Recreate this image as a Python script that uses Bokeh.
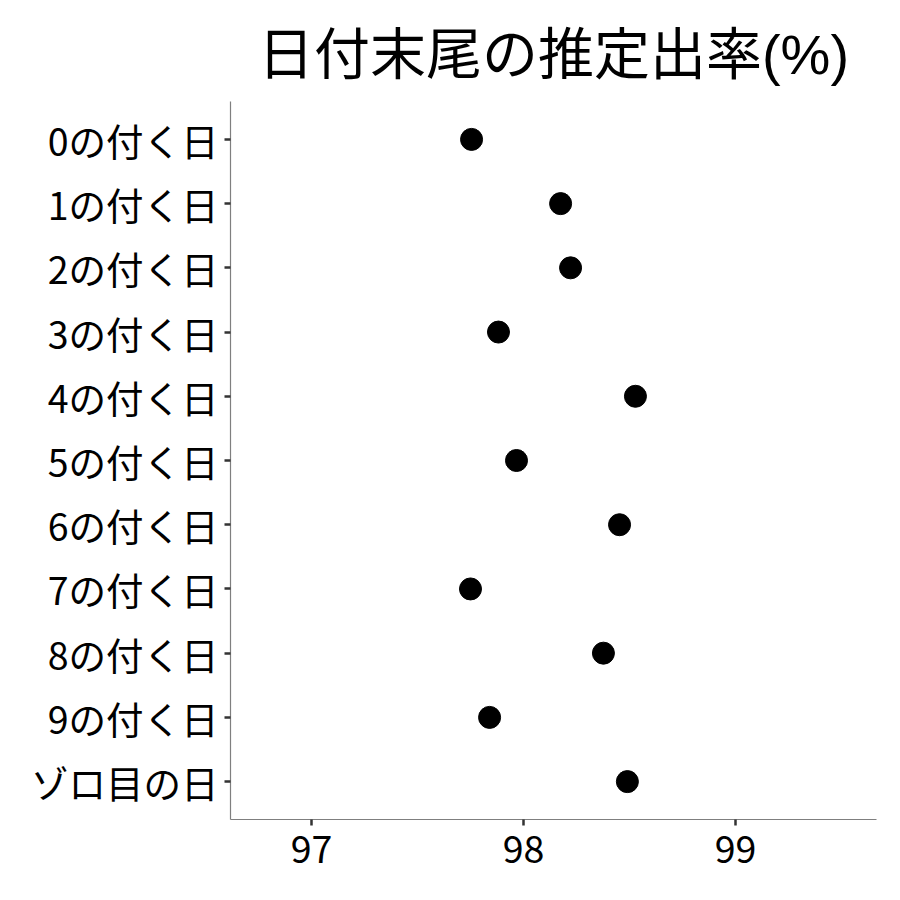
from bokeh.plotting import figure
from bokeh.models import Range1d, FixedTicker, ColumnDataSource
from bokeh.embed import file_html
from bokeh.resources import INLINE

title_text = "日付末尾の推定出率(%)"
categories = ["0の付く日", "1の付く日", "2の付く日", "3の付く日", "4の付く日",
              "5の付く日", "6の付く日", "7の付く日", "8の付く日", "9の付く日", "ゾロ目の日"]
rates = [97.755, 98.175, 98.222, 97.882, 98.528, 97.967, 98.453, 97.750, 98.377, 97.840, 98.490]
x_ticks = [97, 98, 99]

n = len(categories)
ypos = [n - i for i in range(n)]
src = ColumnDataSource(dict(x=rates, y=ypos, cat=categories))

FONT = "Noto Sans CJK JP"

p = figure(width=884, height=884, output_backend="svg", toolbar_location=None,
           x_range=Range1d(96.618, 99.665), y_range=Range1d(0.41, n + 0.59),
           title=title_text,
           min_border_left=230, min_border_right=8, min_border_top=101, min_border_bottom=65)
p.frame_width = 646
p.frame_height = 718

p.scatter("x", "y", source=src, size=22, color="black")

p.title.text_font = "Liberation Sans, 'Noto Sans CJK JP'"
p.title.text_font_size = "56px"
p.title.text_font_style = "normal"
p.title.align = "center"
p.title.text_color = "black"
p.title.standoff = 32

p.xgrid.visible = False
p.ygrid.visible = False
p.outline_line_color = None

p.xaxis.ticker = FixedTicker(ticks=x_ticks)
p.yaxis.ticker = FixedTicker(ticks=ypos)
p.yaxis.major_label_overrides = {y: c for y, c in zip(ypos, categories)}

for ax in (p.xaxis[0], p.yaxis[0]):
    ax.axis_line_color = "#7f7f7f"
    ax.axis_line_width = 1.2
    ax.major_tick_line_color = "#333333"
    ax.major_tick_line_width = 2.5
    ax.major_tick_out = 6
    ax.major_tick_in = 0
    ax.minor_tick_line_color = None
    ax.major_label_text_font = FONT
    ax.major_label_text_font_size = "37.5px"
    ax.major_label_text_color = "black"
p.xaxis.major_label_standoff = 9
p.yaxis.major_label_standoff = 6

open("out.html", "w").write(file_html(p, INLINE))
